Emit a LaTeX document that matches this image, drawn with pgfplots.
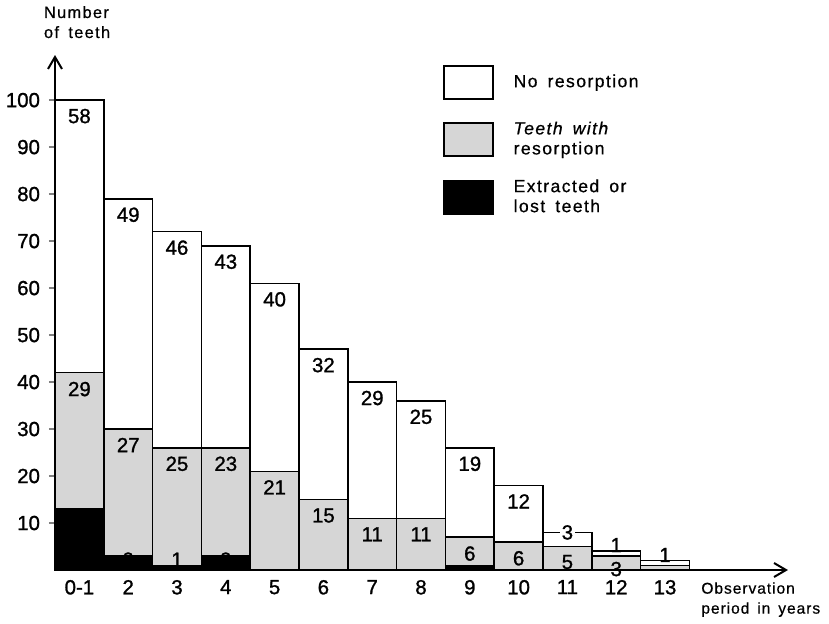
\documentclass[border=0pt]{standalone}
\usepackage{pgfplots}
\pgfplotsset{compat=1.18}
\usepackage{fontspec}
\setmainfont{Liberation Sans}
\newfontfamily\lsp{Liberation Sans}[LetterSpace=8,WordSpace=1.6,FakeBold=0.6]
\newfontfamily\lspx{Liberation Sans}[LetterSpace=6,WordSpace=1.5,FakeBold=0.6]
\newfontfamily\lspit{Liberation Sans Italic}[LetterSpace=8,WordSpace=1.6,FakeBold=0.6]
\newfontfamily\numfont{Liberation Sans}[FakeBold=1.2]
\usetikzlibrary{arrows.meta}
\definecolor{screen}{gray}{0.84}
\begin{document}
\begin{tikzpicture}
\begin{axis}[
  scale only axis,
  width=366.5pt, height=257.5pt,
  xmin=-0.5, xmax=14.52, ymin=0, ymax=109.6,
  clip=false,
  axis lines=left,
  axis line style={line width=1pt},
  x axis line style={-{Straight Barb[length=6pt,width=7pt]}},
  y axis line style={-{Straight Barb[length=6pt,width=7pt]}},
  xtick={0,1,2,3,4,5,6,7,8,9,10,11,12},
  xticklabels={0-1,2,3,4,5,6,7,8,9,10,11,12,13},
  ytick={10,20,30,40,50,60,70,80,90,100},
  xtick style={draw=none},
  ytick style={line width=0.8pt},
  tick align=outside,
  major tick length=3pt,
  /pgf/number format/assume math mode=true,
  tick label style={font=\fontsize{10.2}{12}\numfont},
  xticklabel style={yshift=1.5pt},
  yticklabel style={xshift=-1pt},
  every axis y label/.style={at={(axis cs:-0.87,116.6)}, anchor=west, align=left, font=\fontsize{8.2}{10}\lsp},
  every axis x label/.style={at={(axis cs:12.6,-6.3)}, anchor=west, align=left, font=\fontsize{7.8}{10}\lspx},
  ylabel={Number\\of teeth},
  xlabel={Observation\\period in years},
  legend style={draw=none, fill=none, at={(axis cs:7.32,108.4)}, anchor=north west,
    row sep=11pt, column sep=10pt,
    nodes={inner sep=0pt, align=left, font=\fontsize{8.8}{10}\lsp}},
  legend cell align=left,
]
\coordinate (O) at (rel axis cs:0,0);
% totals (no resorption on top)
\addplot[ybar, bar width=1, bar shift=0pt, fill=white, draw=black, line width=0.8pt,
  legend image code/.code={\draw[black, line width=0.8pt, fill=white] (0pt,-8.25pt) rectangle (24.5pt,8.25pt);}]
  coordinates {(0,100) (1,79) (2,72) (3,69) (4,61) (5,47) (6,40) (7,36) (8,26) (9,18) (10,8) (11,4) (12,2)};
\addlegendentry{No resorption}
% resorption + lost (cumulative)
\addplot[ybar, bar width=1, bar shift=0pt, fill=screen, draw=black, line width=0.8pt,
  legend image code/.code={\draw[black, line width=0.8pt, fill=screen] (0pt,-8.25pt) rectangle (24.5pt,8.25pt);}]
  coordinates {(0,42) (1,30) (2,26) (3,26) (4,21) (5,15) (6,11) (7,11) (8,7) (9,6) (10,5) (11,3) (12,1)};
\addlegendentry{{\lspit Teeth with}\\resorption}
% labels partly hidden by the black bars
\addplot[draw=none, mark=none, forget plot, nodes near coords, point meta=explicit symbolic,
  nodes near coords align=center, every node near coord/.append style={font=\fontsize{10.2}{12}\numfont, inner sep=0pt}]
  coordinates {(1,2.2) [3] (2,2.2) [1] (3,2.2) [3]};
% extracted or lost
\addplot[ybar, bar width=1, bar shift=0pt, fill=black, draw=black, line width=0.8pt,
  legend image code/.code={\draw[black, line width=0.8pt, fill=black] (0pt,-8.25pt) rectangle (24.5pt,8.25pt);}]
  coordinates {(0,13) (1,3) (2,1) (3,3) (4,0) (5,0) (6,0) (7,0) (8,1) (9,0) (10,0) (11,0) (12,0)};
\addlegendentry{Extracted or\\lost teeth}
% labels of the upper segments
\addplot[draw=none, mark=none, forget plot, nodes near coords, point meta=explicit symbolic,
  nodes near coords align=center, every node near coord/.append style={font=\fontsize{10.2}{12}\numfont, inner sep=0pt}]
  coordinates {(0,96.6) [58] (1,75.6) [49] (2,68.6) [46] (3,65.6) [43] (4,57.6) [40]
    (5,43.6) [32] (6,36.6) [29] (7,32.6) [25] (8,22.6) [19] (9,14.6) [12]
    (11,5.3) [1] (12,3.2) [1]};
% labels of the middle segments
\addplot[draw=none, mark=none, forget plot, nodes near coords, point meta=explicit symbolic,
  nodes near coords align=center, every node near coord/.append style={font=\fontsize{10.2}{12}\numfont, inner sep=0pt}]
  coordinates {(0,38.5) [29] (1,26.6) [27] (2,22.6) [25] (3,22.6) [23] (4,17.6) [21]
    (5,11.6) [15] (6,7.6) [11] (7,7.6) [11] (8,3.5) [6] (9,2.5) [6] (10,1.7) [5] (11,0.2) [3]};
% label on the top edge of bar 11
\addplot[draw=none, mark=none, forget plot, nodes near coords, point meta=explicit symbolic,
  nodes near coords align=center, every node near coord/.append style={font=\fontsize{10.2}{12}\numfont, fill=white, inner sep=1pt}]
  coordinates {(10,8) [3]};
\end{axis}
\pgfresetboundingbox
\useasboundingbox ([shift={(-27.5pt,-26.5pt)}]O) rectangle ([shift={(387pt,285pt)}]O);
\end{tikzpicture}
\end{document}
